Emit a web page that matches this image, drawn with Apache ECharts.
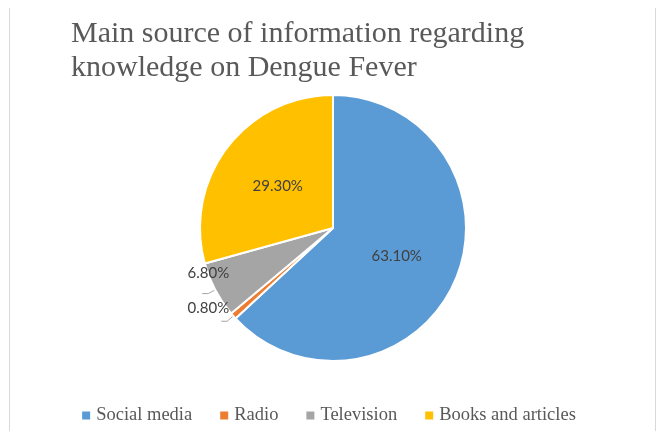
<!DOCTYPE html>
<html>
<head>
<meta charset="utf-8">
<script src="https://cdn.jsdelivr.net/npm/echarts@6/dist/echarts.min.js"></script>
<style>
  html, body { margin: 0; padding: 0; background: #fff; }
  #chart { width: 656px; height: 431px; }
</style>
</head>
<body>
<div id="chart"></div>
<script>
// data
const categories = ['Social media', 'Radio', 'Television', 'Books and articles'];
const shares = [63.1, 0.8, 6.8, 29.3];
const colors = ['#5b9bd5', '#ed7d31', '#a5a5a5', '#ffc000'];
const outsideLabel = [false, true, true, false];
// nudges for the two small outside labels (Excel "best fit" look)
const labelShift = { 1: [10, -13], 2: [29, -20] };

const chart = echarts.init(document.getElementById('chart'));

const pieData = categories.map(function (name, i) {
    const item = { name: name, value: shares[i], itemStyle: { color: colors[i] } };
    if (outsideLabel[i]) {
        item.label = { position: 'outside', distanceToLabelLine: 2 };
        item.labelLine = { show: true, length: 8, length2: 6 };
    } else {
        item.label = { position: 'inside' };
        item.labelLine = { show: false };
    }
    return item;
});

chart.setOption({
    animation: false,
    title: {
        text: 'Main source of information regarding\nknowledge on Dengue Fever',
        left: 66,
        top: 12,
        textStyle: {
            fontFamily: 'Liberation Serif',
            fontWeight: 'normal',
            fontSize: 30,
            lineHeight: 34,
            color: '#595959'
        }
    },
    legend: {
        bottom: 1,
        left: 'center',
        itemWidth: 10,
        itemHeight: 10,
        itemGap: 26,
        icon: 'rect',
        textStyle: {
            fontFamily: 'Liberation Serif',
            fontSize: 18.5,
            color: '#595959'
        },
        data: categories
    },
    graphic: [
        { type: 'line', shape: { x1: 9.5, y1: 8, x2: 9.5, y2: 431 }, style: { stroke: '#d9d9d9', lineWidth: 1 } },
        { type: 'line', shape: { x1: 655.5, y1: 8, x2: 655.5, y2: 431 }, style: { stroke: '#d9d9d9', lineWidth: 1 } }
    ],
    series: [{
        type: 'pie',
        center: [333, 228],
        radius: 133,
        startAngle: 90,
        clockwise: true,
        avoidLabelOverlap: false,
        itemStyle: { borderColor: '#fff', borderWidth: 2 },
        label: {
            formatter: function (p) { return p.value.toFixed(2) + '%'; },
            fontFamily: 'Lato',
            fontSize: 15,
            color: '#404040'
        },
        labelLine: { lineStyle: { color: '#a6a6a6', width: 1 } },
        labelLayout: function (p) {
            const s = labelShift[p.dataIndex];
            return s ? { dx: s[0], dy: s[1] } : {};
        },
        data: pieData
    }]
});
</script>
</body>
</html>
